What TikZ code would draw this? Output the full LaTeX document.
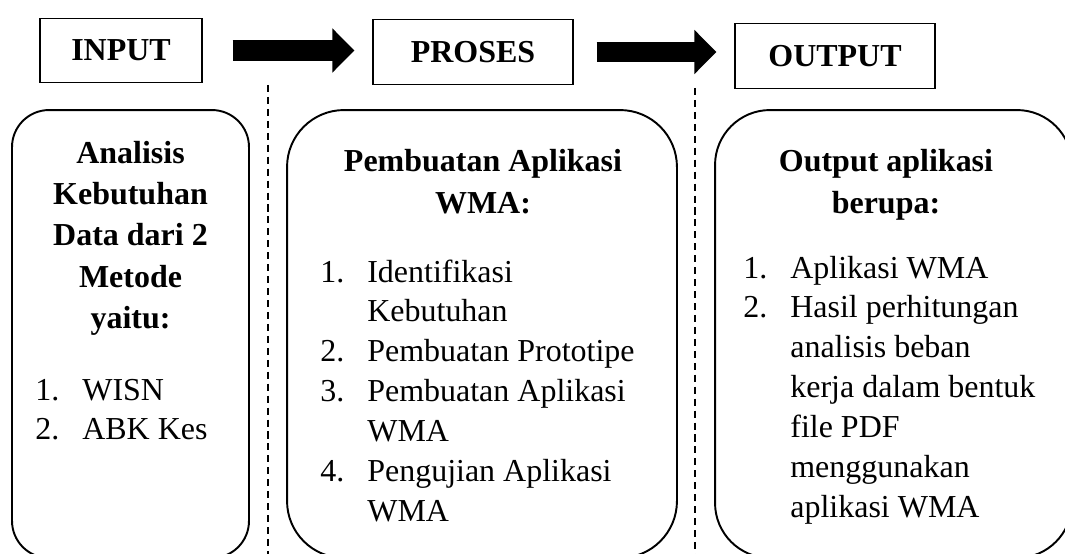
\documentclass[tikz,border=0pt]{standalone}
\usepackage{fontspec}
\setmainfont{Liberation Serif}
\usetikzlibrary{arrows.meta}

\begin{document}
\begin{tikzpicture}[x=0.02cm,y=-0.02cm,
  tahap/.style={draw,line width=0.75pt,inner sep=0pt,minimum height=1.29cm,font=\fontsize{18.2}{22.8}\selectfont\bfseries},
  panel/.style={draw,line width=1.1pt,inner sep=0pt,minimum height=8.96cm},
  fat/.style={line width=0.42cm,-{Triangle[length=0.44cm,width=0.86cm]}},
  garis/.style={line width=0.6pt,dash pattern=on 4pt off 2.8pt},
  judul/.style={anchor=base,inner sep=0pt,font=\fontsize{18.2}{23.6}\selectfont\bfseries},
  daftar/.style={anchor=base west,inner sep=0pt,font=\fontsize{18.2}{22.76}\selectfont}]
\clip (0,0) rectangle (1065,554);
\node[tahap,minimum width=3.24cm] (input) at (121,50.5) {INPUT};
\node[tahap,minimum width=4cm] (proses) at (473,52) {PROSES};
\node[tahap,minimum width=4cm] (output) at (835,56) {OUTPUT};
\draw[fat,shorten <=0.6cm,shorten >=0.36cm] (input.east) -- (input.east -| proses.west);
\draw[fat,shorten <=0.46cm,shorten >=0.36cm] (proses.east) -- (proses.east -| output.west);
\coordinate (g1a) at (268,85);
\coordinate (g1b) at (268,554);
\coordinate (g2a) at (695,88);
\coordinate (g2b) at (695,554);
\draw[garis] (g1a) -- (g1b);
\draw[garis] (g2a) -- (g2b);
\node[panel,rounded corners=0.74cm,minimum width=4.74cm] (analisis) at (130.5,334) {};
\node[panel,rounded corners=1.14cm,minimum width=7.8cm] (pembuatan) at (482,334) {};
\node[panel,rounded corners=1.1cm,minimum width=7.14cm] (hasil) at (893.5,334) {};
\node[judul] (judul1) at (130.5,163) {\begin{tabular}[t]{@{}c@{}}Analisis\\Kebutuhan\\Data dari 2\\Metode\\yaitu:\end{tabular}};
\node[daftar] (daftar1) at (35,400) {\begin{tabular}[t]{@{}p{26.75pt}@{}l@{}}1.&WISN\\2.&ABK Kes\end{tabular}};
\node[judul] (judul2) at (483,172) {\begin{tabular}[t]{@{}c@{}}Pembuatan Aplikasi\\WMA:\end{tabular}};
\node[daftar] (daftar2) at (320,282) {\begin{tabular}[t]{@{}p{26.75pt}@{}l@{}}1.&Identifikasi\\&Kebutuhan\\2.&Pembuatan Prototipe\\3.&Pembuatan Aplikasi\\&WMA\\4.&Pengujian Aplikasi\\&WMA\end{tabular}};
\node[judul] (judul3) at (886,172) {\begin{tabular}[t]{@{}c@{}}Output aplikasi\\berupa:\end{tabular}};
\node[daftar] (daftar3) at (743,278) {\begin{tabular}[t]{@{}p{26.75pt}@{}l@{}}1.&Aplikasi WMA\\2.&Hasil perhitungan\\&analisis beban\\&kerja dalam bentuk\\&file PDF\\&menggunakan\\&aplikasi WMA\end{tabular}};
\end{tikzpicture}
\end{document}
